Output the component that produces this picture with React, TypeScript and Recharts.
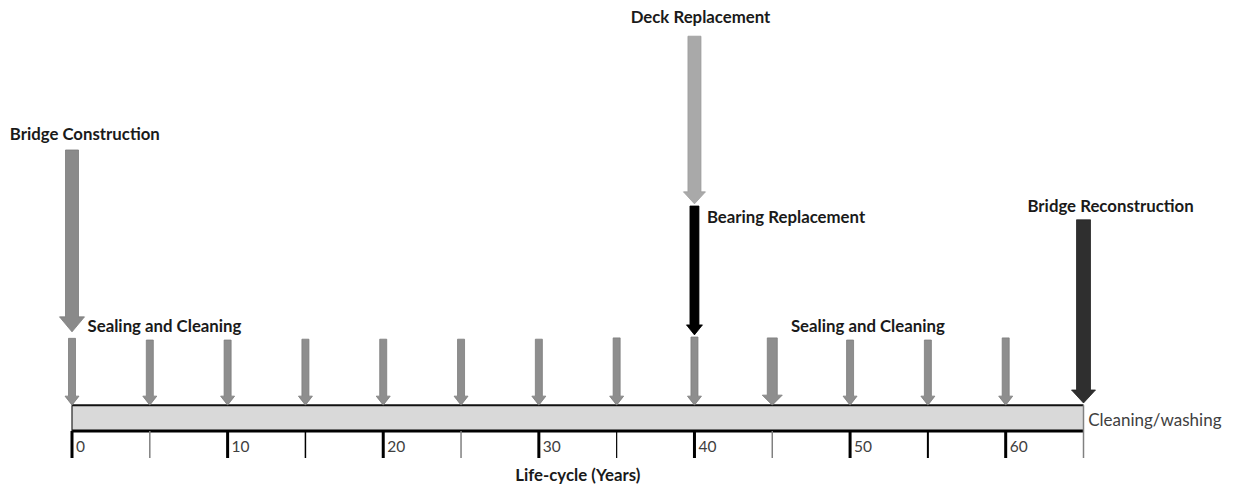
import React from 'react';
import { ComposedChart, XAxis, YAxis, ReferenceLine, ReferenceArea, ReferenceDot, Scatter } from 'recharts';

// ---- data ----
const tickYears = [0, 5, 10, 15, 20, 25, 30, 35, 40, 45, 50, 55, 60, 65];
const labelYears = [0, 10, 20, 30, 40, 50, 60];

const sealingYears = [0, 5, 10, 15, 20, 25, 30, 35, 40, 45, 50, 55, 60];
const sealingTops = [21.5, 21.1, 21.1, 21.3, 21.3, 21.3, 21.3, 21.6, 21.8, 21.6, 21.1, 21.1, 21.6];
const sealingTip = 6.0;

const eventNames = ['Bridge Construction', 'Deck Replacement', 'Bearing Replacement', 'Bridge Reconstruction'];
const eventYears = [0, 40, 40, 65];
const eventTops = [65.2, 91.6, 52.2, 49.0];
const eventTips = [23.0, 52.7, 22.3, 6.5];

const timelineYears = [0, 65];
const timelineLevels = [0, 6];

const noteTexts = ['Bridge Construction', 'Sealing and Cleaning', 'Deck Replacement', 'Bearing Replacement', 'Sealing and Cleaning', 'Bridge Reconstruction', 'Cleaning/washing'];
const noteYears = [-4.0, 1.0, 35.9, 40.8, 46.2, 61.4, 65.3];
const noteLevels = [69.1, 24.4, 96.1, 49.7, 24.4, 52.4, 2.6];
const noteBold = [true, true, true, true, true, true, false];

const axisTitle = 'Life-cycle (Years)';

// table for the chart (sealing events on the timeline)
const sealingRows = sealingYears.map((year, i) => ({ year, level: sealingTops[i] }));

// ---- styles ----
const FONT = 'Lato, "Open Sans", sans-serif';
type ArrowStyle = { shaft: number; head: number; headLen: number; fill: string; stroke: string };
const sealingStyle: ArrowStyle = { shaft: 7, head: 14, headLen: 9, fill: '#8e8e8e', stroke: '#7c7c7c' };
const sealingWide: Record<number, ArrowStyle> = { 45: { shaft: 10, head: 20, headLen: 10, fill: '#8e8e8e', stroke: '#7c7c7c' } };
const eventStyles: Record<string, ArrowStyle> = {
  'Bridge Construction': { shaft: 13, head: 25, headLen: 15, fill: '#8a8a8a', stroke: '#7a7a7a' },
  'Deck Replacement': { shaft: 13, head: 22, headLen: 12, fill: '#a9a9a9', stroke: '#9c9c9c' },
  'Bearing Replacement': { shaft: 9, head: 16, headLen: 10, fill: '#000000', stroke: '#000000' },
  'Bridge Reconstruction': { shaft: 14, head: 24, headLen: 13, fill: '#2f2f2f', stroke: '#262626' },
};
const tickStyle: Record<number, { color: string; w: number }> = {
  0: { color: '#000', w: 3 }, 5: { color: '#808080', w: 1.5 }, 10: { color: '#000', w: 3 },
  15: { color: '#000', w: 1.5 }, 20: { color: '#000', w: 3 }, 25: { color: '#808080', w: 1.5 },
  30: { color: '#000', w: 3 }, 35: { color: '#000', w: 1.2 }, 40: { color: '#000', w: 3 },
  45: { color: '#808080', w: 1.5 }, 50: { color: '#000', w: 3 }, 55: { color: '#000', w: 2 },
  60: { color: '#000', w: 3 }, 65: { color: '#808080', w: 1.5 },
};

const makeArrow = (st: ArrowStyle) => (p: any) => {
  const cx = Number(p.x1);
  const top = Math.min(Number(p.y1), Number(p.y2));
  const tip = Math.max(Number(p.y1), Number(p.y2));
  const hs = st.shaft / 2;
  const hh = st.head / 2;
  const neck = tip - st.headLen;
  const pts = [
    [cx - hs, top], [cx + hs, top], [cx + hs, neck], [cx + hh, neck],
    [cx, tip], [cx - hh, neck], [cx - hs, neck],
  ].map((q) => q.join(',')).join(' ');
  return <polygon points={pts} fill={st.fill} stroke={st.stroke} strokeWidth={0.8} />;
};

const TimelineShape = (p: any) => {
  const { x, y, width, height } = p;
  return (
    <g>
      <rect x={x} y={y} width={width} height={height} fill="#d9d9d9" />
      <line x1={x} x2={x + width} y1={y} y2={y} stroke="#111" strokeWidth={2} />
      <line x1={x} x2={x + width} y1={y + height} y2={y + height} stroke="#000" strokeWidth={3} />
      <line x1={x} x2={x} y1={y} y2={y + height} stroke="#222" strokeWidth={1.2} />
      <line x1={x + width} x2={x + width} y1={y} y2={y + height} stroke="#808080" strokeWidth={1.5} />
    </g>
  );
};

const AxisTick = (p: any) => {
  const { x, y, payload } = p;
  const v = payload.value as number;
  const st = tickStyle[v] || { color: '#000', w: 1 };
  return (
    <g>
      <line x1={x} x2={x} y1={y} y2={y + 27} stroke={st.color} strokeWidth={st.w} />
      {labelYears.includes(v) && (
        <text x={x + 4} y={y + 15} dominantBaseline="central" fontFamily={FONT} fontSize={15.5} fill="#404040">
          {v}
        </text>
      )}
    </g>
  );
};

const makeNote = (text: string, bold: boolean) => (p: any) => (
  <text
    x={p.cx}
    y={p.cy}
    dominantBaseline="central"
    textAnchor="start"
    fontFamily={FONT}
    fontSize={bold ? 16.8 : 17}
    fontWeight={bold ? 700 : 400}
    fill={bold ? '#1a1a1a' : '#404040'}
  >
    {text}
  </text>
);

export default function App() {
  return (
    <div style={{ position: 'absolute', left: 0, top: 0, width: 1234, height: 487, background: '#fff' }}>
      <ComposedChart width={1234} height={487} margin={{ top: 0, right: 150.5, bottom: 0, left: 72 }} data={sealingRows}>
        <XAxis
          type="number"
          dataKey="year"
          domain={[0, 65]}
          allowDataOverflow
          ticks={tickYears}
          interval={0}
          axisLine={false}
          tickLine={false}
          tickSize={0}
          tickMargin={0}
          height={56}
          tick={<AxisTick />}
          label={{
            value: axisTitle,
            content: (lp: any) => {
              const vb = lp.viewBox || {};
              return (
                <text
                  x={vb.x + vb.width / 2}
                  y={vb.y + 43}
                  textAnchor="middle"
                  dominantBaseline="central"
                  fontFamily={FONT}
                  fontSize={16.8}
                  fontWeight={700}
                  fill="#1a1a1a"
                >
                  {axisTitle}
                </text>
              );
            },
          }}
        />
        <YAxis type="number" dataKey="level" domain={[0, 100]} allowDataOverflow hide />
        <Scatter dataKey="level" isAnimationActive={false} shape={() => <g />} />
        <ReferenceArea
          x1={timelineYears[0]}
          x2={timelineYears[1]}
          y1={timelineLevels[0]}
          y2={timelineLevels[1]}
          ifOverflow="visible"
          shape={<TimelineShape />}
        />
        {sealingYears.map((yr, i) => (
          <ReferenceLine
            key={'s' + yr}
            segment={[{ x: yr, y: sealingTops[i] }, { x: yr, y: sealingTip }]}
            ifOverflow="visible"
            shape={makeArrow(sealingWide[yr] || sealingStyle)}
          />
        ))}
        {eventNames.map((n, i) => (
          <ReferenceLine
            key={'e' + n}
            segment={[{ x: eventYears[i], y: eventTops[i] }, { x: eventYears[i], y: eventTips[i] }]}
            ifOverflow="visible"
            shape={makeArrow(eventStyles[n])}
          />
        ))}
        {noteTexts.map((t, i) => (
          <ReferenceDot
            key={'n' + i}
            x={noteYears[i]}
            y={noteLevels[i]}
            r={0}
            ifOverflow="visible"
            shape={makeNote(t, noteBold[i])}
          />
        ))}
      </ComposedChart>
    </div>
  );
}
